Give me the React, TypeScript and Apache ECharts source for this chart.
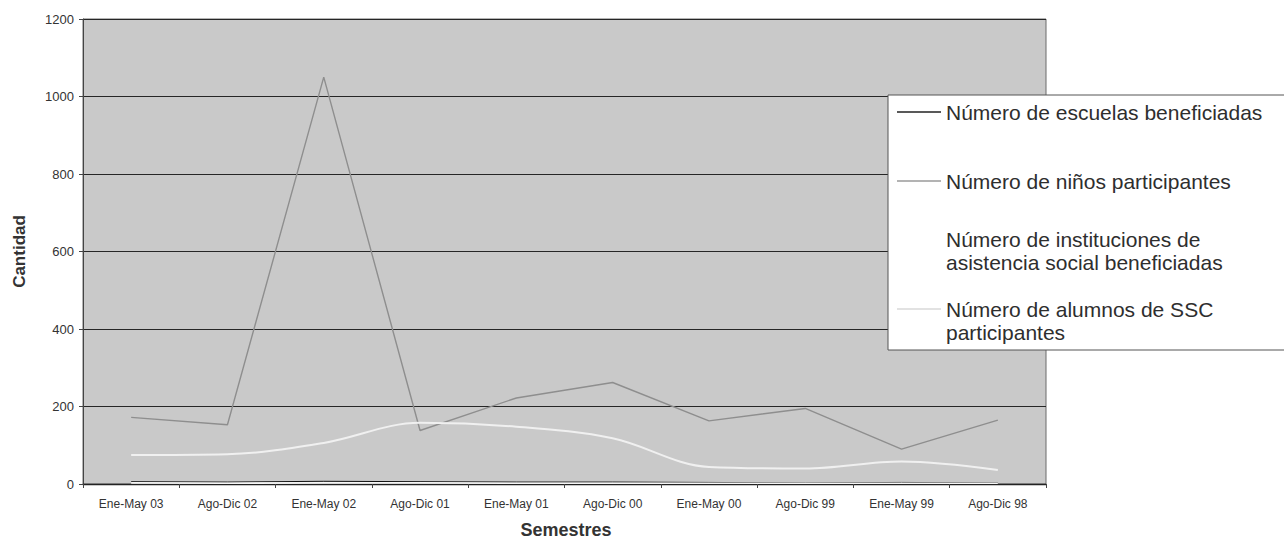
import React, { useEffect, useRef } from "react";
import * as echarts from "echarts";

const categories = [
  "Ene-May 03", "Ago-Dic 02", "Ene-May 02", "Ago-Dic 01", "Ene-May 01",
  "Ago-Dic 00", "Ene-May 00", "Ago-Dic 99", "Ene-May 99", "Ago-Dic 98",
];
const escuelas = [6, 5, 7, 6, 5, 5, 4, 3, 4, 3];
const ninos = [172, 153, 1050, 138, 222, 262, 163, 195, 90, 165];
const instituciones = [3, 2, 3, 3, 2, 2, 2, 2, 2, 2];
const alumnosSSC = [75, 77, 106, 158, 148, 118, 44, 40, 58, 36];
const yTicks = [0, 200, 400, 600, 800, 1000, 1200];

const seriesNames = [
  "Número de escuelas beneficiadas",
  "Número de niños participantes",
  "Número de instituciones de\nasistencia social beneficiadas",
  "Número de alumnos de SSC\nparticipantes",
];

const FONT = "'Liberation Sans', Arial, sans-serif";

export default function App() {
  const ref = useRef<HTMLDivElement>(null);
  useEffect(() => {
    if (!ref.current) return;
    const chart = echarts.init(ref.current, undefined, { renderer: "svg" });
    const lineColors = ["#111111", "#8e8e8e", "#f6f6f6", "#f0f0f0"];
    const legendSymbolColors = ["#222222", "#9a9a9a", "#ffffff", "#d8d8d8"];
    const legendY = [112, 181, 239, 309];
    const legendGraphics: any[] = [
      {
        type: "rect",
        shape: { x: 888, y: 95, width: 420, height: 255 },
        style: { fill: "#ffffff", stroke: "#555555", lineWidth: 1 },
        z: 10,
      },
    ];
    seriesNames.forEach((n, i) => {
      legendGraphics.push({
        type: "line",
        shape: { x1: 897, y1: legendY[i], x2: 941, y2: legendY[i] },
        style: { stroke: legendSymbolColors[i], lineWidth: i === 0 ? 1.6 : 1.4 },
        z: 11,
      });
      n.split("\n").forEach((line, j) => {
        legendGraphics.push({
          type: "text",
          x: 946,
          y: legendY[i] + j * 23,
          style: {
            text: line,
            font: `21px ${FONT}`,
            fill: "#2e2e2e",
            textVerticalAlign: "middle",
          },
          z: 11,
        });
      });
    });
    chart.setOption({
      animation: false,
      backgroundColor: "#ffffff",
      grid: {
        left: 83,
        right: 238,
        top: 19,
        bottom: 59,
        show: true,
        backgroundColor: "#c9c9c9",
        borderColor: "#6a6a6a",
        borderWidth: 1,
      },
      xAxis: {
        type: "category",
        data: categories,
        boundaryGap: true,
        axisLine: { lineStyle: { color: "#222", width: 1.3 } },
        axisTick: { show: true, length: 4, lineStyle: { color: "#444" } },
        axisLabel: { fontFamily: FONT, fontSize: 12, color: "#333", margin: 14, interval: 0 },
        splitLine: { show: false },
      },
      yAxis: {
        type: "value",
        min: 0,
        max: 1200,
        interval: 200,
        name: "Cantidad",
        nameLocation: "middle",
        nameGap: 55,
        nameTextStyle: { fontFamily: FONT, fontSize: 17, fontWeight: "bold", color: "#333" },
        axisLine: { show: true, lineStyle: { color: "#444", width: 1 } },
        axisTick: { show: true, length: 4, lineStyle: { color: "#444" } },
        axisLabel: {
          fontFamily: FONT,
          fontSize: 13,
          color: "#333",
          margin: 9,
          formatter: (v: number) => (yTicks.includes(v) ? String(v) : ""),
        },
        splitLine: { show: true, lineStyle: { color: "#262626", width: 1 } },
      },
      series: [
        {
          name: seriesNames[1],
          type: "line",
          data: ninos,
          symbol: "none",
          lineStyle: { color: lineColors[1], width: 1.4 },
          z: 3,
        },
        {
          name: seriesNames[3],
          type: "line",
          data: alumnosSSC,
          symbol: "none",
          smooth: 0.35,
          lineStyle: { color: lineColors[3], width: 2 },
          z: 4,
        },
        {
          name: seriesNames[2],
          type: "line",
          data: instituciones,
          symbol: "none",
          lineStyle: { color: lineColors[2], width: 1.6 },
          z: 4,
        },
        {
          name: seriesNames[0],
          type: "line",
          data: escuelas,
          symbol: "none",
          lineStyle: { color: lineColors[0], width: 1 },
          z: 2,
        },
      ],
      graphic: [
        ...legendGraphics,
        {
          type: "text",
          x: 566,
          y: 530,
          style: {
            text: "Semestres",
            font: `bold 18px ${FONT}`,
            fill: "#333",
            textAlign: "center",
            textVerticalAlign: "middle",
          },
        },
      ],
    });
    return () => chart.dispose();
  }, []);
  return (
    <div
      ref={ref}
      style={{ position: "absolute", left: 0, top: 0, width: 1284, height: 543 }}
    />
  );
}
